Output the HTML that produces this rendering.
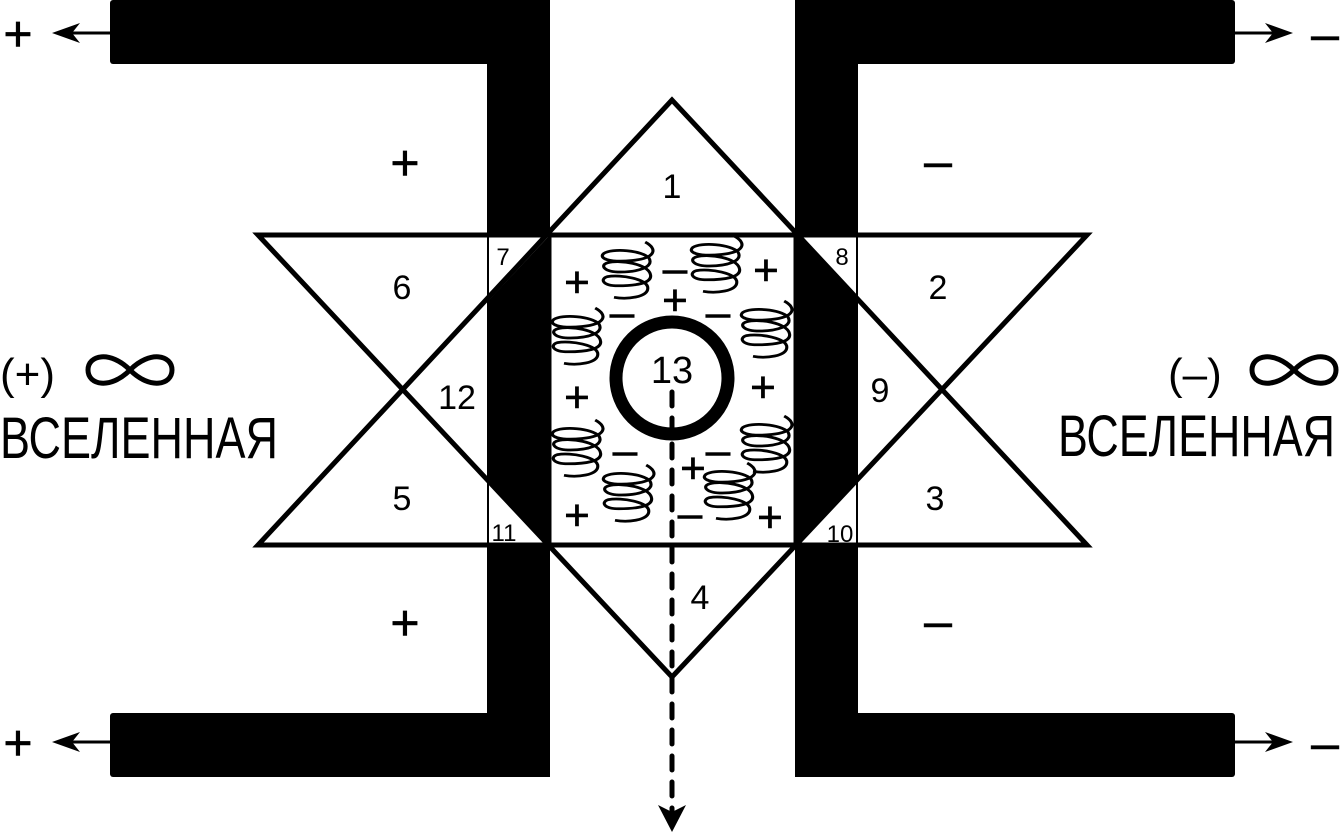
<!DOCTYPE html>
<html><head><meta charset="utf-8"><style>html,body{margin:0;padding:0;background:#fff}svg{display:block}</style></head><body>
<svg width="1341" height="835" viewBox="0 0 1341 835" xmlns="http://www.w3.org/2000/svg" font-family="Liberation Sans, sans-serif">
<defs>
<g id="sp" fill="none" stroke="#000" stroke-width="2.4">
<path d="M14,-26 C24,-20 22,-12 4,-10 C-14,-8 -22,-12 -18,-16 C-12,-21 12,-19 17,-12 C21,-4 8,0 -5,0 C-18,0 -21,-6 -15,-8 C-5,-11 16,-7 18,2 C20,10 6,12 -7,12 C-19,12 -21,6 -15,4 C-5,2 16,6 16,14 C16,22 0,24 -10,22"/>
</g>
</defs>
<rect x="110" y="0" width="440" height="64" rx="3"/>
<rect x="487" y="0" width="63" height="777"/>
<rect x="110" y="713" width="440" height="64" rx="3"/>
<rect x="795" y="0" width="440" height="64" rx="3"/>
<rect x="795" y="0" width="63" height="777"/>
<rect x="795" y="713" width="440" height="64" rx="3"/>
<rect x="550" y="235" width="245" height="310" fill="#fff"/>
<polygon points="489,237 548,237 489,300" fill="#fff"/>
<polygon points="489,543 548,543 489,480" fill="#fff"/>
<polygon points="797,237 856,237 856,300" fill="#fff"/>
<polygon points="797,543 856,543 856,480" fill="#fff"/>
<polygon points="550,232 672,100 795,232" fill="#fff"/>
<polygon points="550,548 672,677 795,548" fill="#fff"/>
<polygon points="672,100 258,545 1087,545" fill="none" stroke="#000" stroke-width="5"/>
<polygon points="258,235 1087,235 672,677" fill="none" stroke="#000" stroke-width="5"/>
<line x1="550" y1="235" x2="550" y2="545" stroke="#000" stroke-width="3"/>
<line x1="795" y1="235" x2="795" y2="545" stroke="#000" stroke-width="3"/>
<line x1="488" y1="235" x2="488" y2="545" stroke="#000" stroke-width="2"/>
<line x1="857" y1="235" x2="857" y2="545" stroke="#000" stroke-width="2"/>
<g stroke="#000" stroke-width="3"><line x1="110" y1="33" x2="70" y2="33"/><line x1="1235" y1="33" x2="1275" y2="33"/><line x1="110" y1="742" x2="70" y2="742"/><line x1="1235" y1="742" x2="1275" y2="742"/></g>
<polygon points="52,33 80,23 72,33 80,43"/>
<polygon points="1293,33 1265,23 1273,33 1265,43"/>
<polygon points="52,742 80,732 72,742 80,752"/>
<polygon points="1293,742 1265,732 1273,742 1265,752"/>
<g font-size="50" text-anchor="middle" stroke="#000" stroke-width="0.6">
<text x="18" y="51">+</text><text x="1325" y="51">–</text>
<text x="18" y="760">+</text><text x="1325" y="760">–</text>
<text x="405" y="180">+</text><text x="938" y="178">–</text>
<text x="405" y="640">+</text><text x="938" y="638">–</text>
</g>
<circle cx="672" cy="378" r="56" fill="none" stroke="#000" stroke-width="13"/>
<line x1="672" y1="392" x2="672" y2="812" stroke="#000" stroke-width="5" stroke-dasharray="14,12" stroke-linecap="round"/>
<polygon points="672,832 658,805 672,812 686,805"/>
<g font-size="34" text-anchor="middle">
<text x="672" y="198">1</text><text x="402" y="299">6</text><text x="938" y="299">2</text>
<text x="457" y="409">12</text><text x="880" y="402">9</text>
<text x="402" y="510">5</text><text x="935" y="510">3</text><text x="700" y="609">4</text>
<text x="672" y="383" font-size="38">13</text>
</g>
<g font-size="24" text-anchor="middle">
<text x="503" y="265">7</text><text x="842" y="265">8</text>
<text x="504" y="541">11</text><text x="840" y="542">10</text>
</g>
<g font-size="44" text-anchor="middle" stroke="#000" stroke-width="0.6">
<text x="577" y="297">+</text><text x="675" y="283">–</text><text x="766" y="285">+</text>
<text x="622" y="327">–</text><text x="675" y="315">+</text><text x="718" y="327">–</text>
<text x="577" y="412">+</text><text x="763" y="402">+</text>
<text x="625" y="465">–</text><text x="718" y="465">–</text><text x="693" y="483">+</text>
<text x="577" y="530">+</text><text x="690" y="528">–</text><text x="770" y="532">+</text>
</g>
<g transform="translate(627,272) scale(1.3,1.15)"><use href="#sp"/></g>
<g transform="translate(716,266) scale(1.3,1.15)"><use href="#sp"/></g>
<g transform="translate(577,338) scale(1.3,1.15)"><use href="#sp"/></g>
<g transform="translate(766,331) scale(1.3,1.15)"><use href="#sp"/></g>
<g transform="translate(577,450) scale(1.3,1.15)"><use href="#sp"/></g>
<g transform="translate(766,446) scale(1.3,1.15)"><use href="#sp"/></g>
<g transform="translate(628,495) scale(1.3,1.15)"><use href="#sp"/></g>
<g transform="translate(729,493) scale(1.3,1.15)"><use href="#sp"/></g>
<text x="0" y="389" font-size="44">(+)</text>
<text x="1168" y="389" font-size="44">(–)</text>
<path d="M130,370 C110,350 88,355 88,370 C88,385 110,390 130,370 C150,350 172,355 172,370 C172,385 150,390 130,370 Z" fill="none" stroke="#000" stroke-width="5"/>
<path d="M1294,370 C1274,350 1252,355 1252,370 C1252,385 1274,390 1294,370 C1314,350 1336,355 1336,370 C1336,385 1314,390 1294,370 Z" fill="none" stroke="#000" stroke-width="5"/>
<text x="0" y="458" font-size="58" textLength="278" lengthAdjust="spacingAndGlyphs">ВСЕЛЕННАЯ</text>
<text x="1058" y="456" font-size="58" textLength="277" lengthAdjust="spacingAndGlyphs">ВСЕЛЕННАЯ</text>
</svg>
</body></html>
